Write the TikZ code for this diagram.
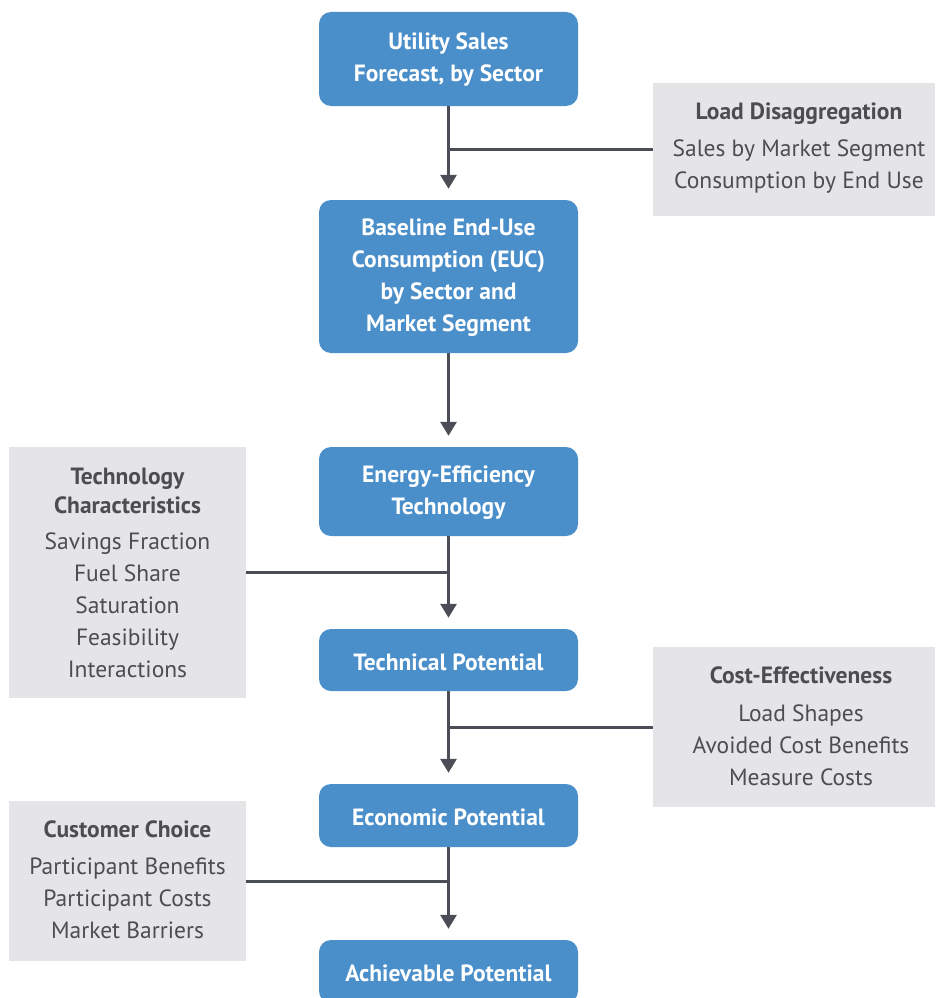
\documentclass[tikz,border=0pt]{standalone}
\usepackage{fontspec}
\setmainfont{PT Sans}
\usetikzlibrary{arrows.meta}
\definecolor{boxblue}{HTML}{4A8FCA}
\definecolor{panelgray}{HTML}{E5E5E7}
\definecolor{linegray}{HTML}{4B4E57}
\definecolor{textgray}{HTML}{4D4D50}
\begin{document}
\begin{tikzpicture}[x=1pt,y=-1pt,
  stage/.style={fill=boxblue, rounded corners=12pt, text=white,
    font=\fontsize{23.5}{32}\selectfont\bfseries, align=center,
    minimum width=259pt, inner sep=0pt, text depth=3pt},
  oneline/.style={text height=20pt, text depth=0pt},
  panel/.style={fill=panelgray, inner sep=0pt},
  ptitle/.style={text=textgray, font=\fontsize{23.5}{29}\selectfont\bfseries, align=center, inner sep=0pt},
  pitems/.style={text=textgray, font=\fontsize{23.5}{32}\selectfont, align=center, inner sep=0pt},
  flow/.style={draw=linegray, line width=3pt, shorten >=11pt,
    -{Triangle[width=16pt,length=14pt]}},
  feedline/.style={draw=linegray, line width=3pt}]
\useasboundingbox (0,0) rectangle (935,998);

% main chain of stages
\node[stage, minimum height=94pt] (sales) at (448.5,59) {Utility Sales\\Forecast, by Sector};
\node[stage, minimum height=153pt] (base) at (448.5,276.5) {Baseline End-Use\\Consumption (EUC)\\by Sector and\\Market Segment};
\node[stage, minimum height=89pt] (eet) at (448.5,491.5) {Energy-Efficiency\\Technology};
\node[stage, oneline, minimum height=62pt] (tech) at (448.5,660) {Technical Potential};
\node[stage, oneline, minimum height=63pt] (econ) at (448.5,815.5) {Economic Potential};
\node[stage, oneline, minimum height=63pt] (ach) at (448.5,971.5) {Achievable Potential};

% side panels
\node[panel, minimum width=282pt, minimum height=133pt] (ld) at (794,149) {};
\node[ptitle] (ldtitle) at (799,114) {Load Disaggregation};
\node[pitems] (lditems) at (799,167) {Sales by Market Segment\\Consumption by End Use};

\node[panel, minimum width=237pt, minimum height=251pt] (tc) at (127.5,572) {};
\node[ptitle] (tctitle) at (127.5,491) {Technology\\Characteristics};
\node[pitems] (tcitems) at (127.5,605) {Savings Fraction\\Fuel Share\\Saturation\\Feasibility\\Interactions};

\node[panel, minimum width=282pt, minimum height=160pt] (ce) at (794,727) {};
\node[ptitle] (cetitle) at (801,675) {Cost-Effectiveness};
\node[pitems] (ceitems) at (801,745) {Load Shapes\\Avoided Cost Benefits\\Measure Costs};

\node[panel, minimum width=237pt, minimum height=160pt] (cc) at (127.5,881) {};
\node[ptitle] (cctitle) at (127.5,829) {Customer Choice};
\node[pitems] (ccitems) at (127.5,898) {Participant Benefits\\Participant Costs\\Market Barriers};

% connectors
\draw[flow] (sales.south) -- (base.north);
\draw[flow] (base.south) -- (eet.north);
\draw[flow] (eet.south) -- (tech.north);
\draw[flow] (tech.south) -- (econ.north);
\draw[flow] (econ.south) -- (ach.north);

\draw[feedline] (ld.west) -- (ld.west -| sales.south);
\draw[feedline] (tc.east) -- (tc.east -| eet.south);
\draw[feedline] (ce.west) -- (ce.west -| tech.south);
\draw[feedline] (cc.east) -- (cc.east -| econ.south);
\end{tikzpicture}
\end{document}
